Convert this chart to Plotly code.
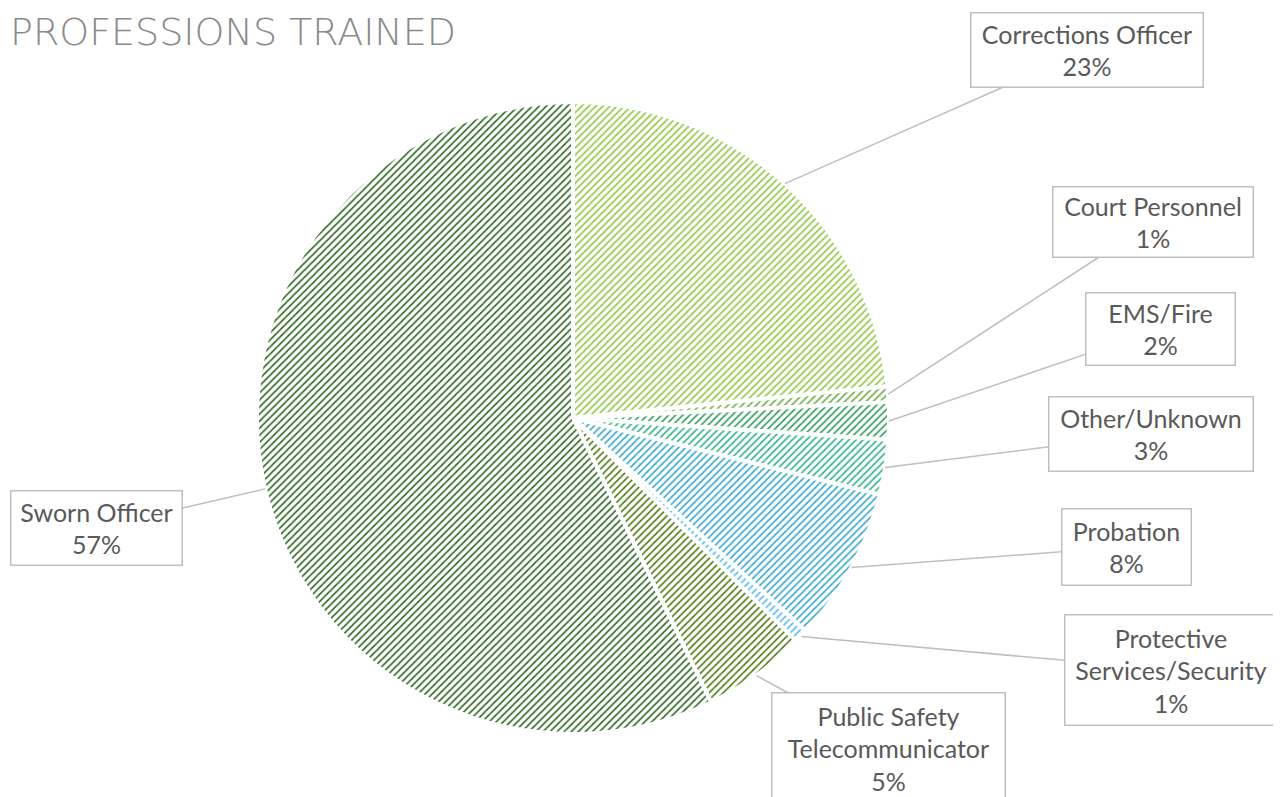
import math
import plotly.graph_objects as go

# ---- data ----
labels = [
    "Corrections Officer",
    "Court Personnel",
    "EMS/Fire",
    "Other/Unknown",
    "Probation",
    "Protective<br>Services/Security",
    "Public Safety<br>Telecommunicator",
    "Sworn Officer",
]
values = [23.4, 0.8, 1.9, 2.8, 7.9, 0.7, 5.3, 57.2]
title_text = "PROFESSIONS TRAINED"

# ---- style ----
bg_colors = ["#eaf5d6", "#d9ecca", "#cfeadb", "#d2f0e5", "#d8eff7", "#c3e7fa", "#e4efcd", "#d9efcc"]
fg_colors = ["#8fc941", "#6fae45", "#2f9e5c", "#2fb589", "#38a8cf", "#55bdf5", "#4f7c14", "#2e6a1f"]

W, H = 1281, 797
OFF = 8  # page body margin of the browser
CX, CY, R = 573 - OFF, 418 - OFF, 316

# label box centre / size (screen pixels) in the same order as labels
boxes = [
    (1087, 50, 234, 76),
    (1153, 222, 202, 72),
    (1160, 329, 151, 74),
    (1151, 434, 206, 76),
    (1126, 547, 131, 78),
    (1171, 670, 214, 112),
    (888, 748, 235, 112),
    (96, 528, 173, 76),
]

fig = go.Figure(
    go.Pie(
        labels=labels,
        values=values,
        sort=False,
        direction="clockwise",
        rotation=0,
        textinfo="none",
        hoverinfo="label+percent",
        showlegend=False,
        marker=dict(
            colors=bg_colors,
            line=dict(color="white", width=4),
            pattern=dict(shape="/", fgcolor=fg_colors, size=5, solidity=0.33, fillmode="replace"),
        ),
        domain=dict(
            x=[(CX - R) / W, (CX + R) / W],
            y=[1 - (CY + R) / H, 1 - (CY - R) / H],
        ),
    )
)

total = sum(values)
annotations = []
cum = 0.0
for lab, v, (bx, by, bw, bh) in zip(labels, values, boxes):
    bx -= OFF
    by -= OFF
    mid = (cum + v / 2) / total * 2 * math.pi
    cum += v
    px = CX + R * math.sin(mid)
    py = CY - R * math.cos(mid)
    pct = int(v / total * 100 + 0.5)
    annotations.append(
        dict(
            xref="paper", yref="paper",
            x=px / W, y=1 - py / H,
            ax=bx - px, ay=by - py,
            text=f"{lab}<br>{pct}%",
            showarrow=True, arrowhead=0, arrowwidth=1.5, arrowcolor="#bfbfbf",
            standoff=0, startstandoff=0,
            font=dict(family="Lato", size=25, color="#595959"),
            align="center",
            bordercolor="#bfbfbf", borderwidth=1.5, borderpad=0,
            bgcolor="white",
            width=bw - 3, height=bh - 3,
        )
    )

annotations.append(
    dict(
        xref="paper", yref="paper",
        x=0.0, y=1.0,
        xanchor="left", yanchor="top",
        text=title_text, showarrow=False,
        font=dict(family="DejaVu Sans", size=38, color="#8a8a8a", weight=200),
    )
)

fig.update_layout(
    width=W, height=H,
    margin=dict(l=0, r=0, t=0, b=0),
    paper_bgcolor="white",
    plot_bgcolor="white",
    annotations=annotations,
)

fig.write_html("out.html")
